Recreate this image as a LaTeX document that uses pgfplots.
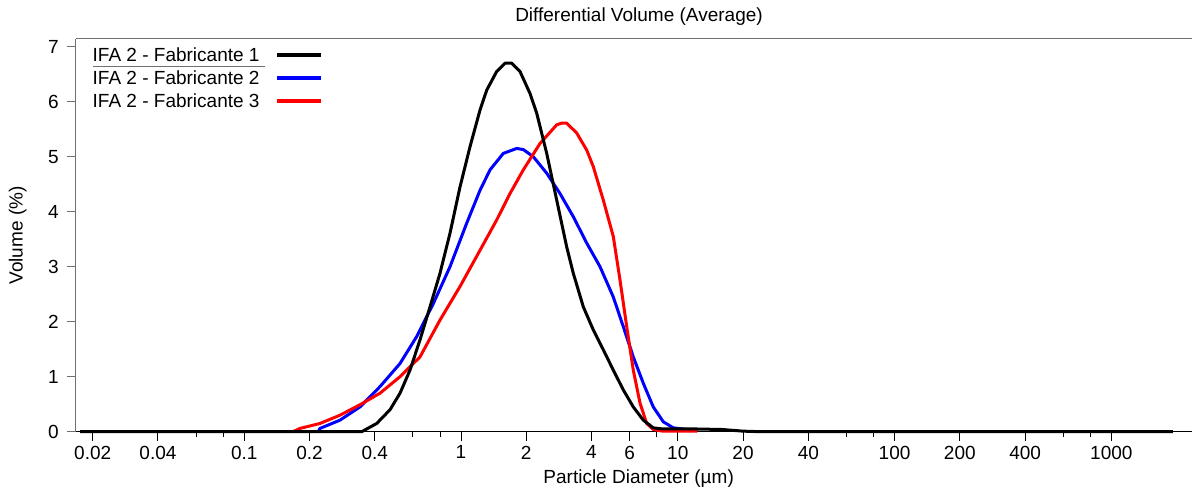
\documentclass[border=0pt]{standalone}
\usepackage{fontspec}
\setmainfont{Liberation Sans}
\usepackage{pgfplots}
\pgfplotsset{compat=1.18}
\newcommand\fs{\fontsize{19bp}{22bp}\selectfont}
\definecolor{axgray}{HTML}{707070}

% Differential volume
\pgfplotstableread{
d v
0.0175 0
0.3483 0
0.4086 0.15
0.4705 0.40
0.5232 0.70
0.5817 1.12
0.6470 1.67
0.7194 2.27
0.8000 2.88
0.8898 3.61
0.9894 4.45
1.100 5.18
1.224 5.85
1.314 6.21
1.461 6.55
1.596 6.70
1.714 6.70
1.871 6.55
2.081 6.15
2.235 5.79
2.485 5.06
2.764 4.21
3.073 3.36
3.296 2.88
3.666 2.27
4.076 1.85
4.533 1.49
5.040 1.12
5.606 0.76
6.233 0.45
6.934 0.21
7.709 0.07
8.5 0.05
12 0.05
16 0.04
20 0.01
24 0
1920 0
}\fabA
\pgfplotstableread{
d v
0.220 0.01
0.2237 0.06
0.2765 0.21
0.342 0.45
0.4230 0.82
0.5232 1.24
0.6246 1.73
0.7453 2.33
0.8898 3.00
1.062 3.79
1.224 4.39
1.361 4.76
1.567 5.06
1.807 5.15
1.938 5.13
2.155 5.00
2.485 4.70
2.862 4.33
3.296 3.91
3.801 3.43
4.377 3.00
5.040 2.45
5.606 1.91
6.233 1.36
6.934 0.88
7.709 0.45
8.575 0.18
9.533 0.07
10.5 0.05
12.3 0.02
}\fabB
\pgfplotstableread{
d v
0.168 0
0.1809 0.06
0.2237 0.15
0.2765 0.30
0.342 0.49
0.4230 0.70
0.5232 1.00
0.6470 1.36
0.8000 2.03
0.9894 2.64
1.224 3.30
1.461 3.85
1.683 4.33
1.938 4.76
2.314 5.24
2.764 5.58
2.914 5.61
3.073 5.61
3.418 5.43
3.801 5.12
4.076 4.82
4.533 4.21
5.040 3.55
5.412 2.76
5.813 1.91
6.233 1.12
6.695 0.52
7.186 0.15
7.709 0.04
8.5 0.01
12.3 0.01
}\fabC

\begin{document}
\begin{tikzpicture}
\begin{axis}[
  name=ax, at={(0,0)}, anchor=south west,
  scale only axis, width=1116bp, height=392.7bp,
  xmode=log, log basis x=10,
  xmin=0.01675, xmax=2354, ymin=0, ymax=7.14,
  clip=false,
  axis x line*=bottom, axis y line*=left,
  x axis line style={black, line width=1bp},
  y axis line style={axgray, line width=1bp},
  tick align=outside,
  xtick={0.02,0.04,0.1,0.2,0.4,1,2,4,6,10,20,40,100,200,400,1000},
  xticklabels={0.02,0.04,0.1,0.2,0.4,1,2,4,6,10,20,40,100,200,400,1000},
  minor xtick={0.06,0.08,0.6,0.8,8,60,80,600,800},
  major tick length=9bp, minor tick length=5.6bp,
  x tick style={black, line width=1bp},
  ytick={0,1,...,7},
  yticklabels={0,1,2,3,4,5,6,7},
  y tick style={axgray, line width=1bp},
  xticklabel style={font=\fs, inner sep=0pt, anchor=north, yshift=-5bp},
  yticklabel style={font=\fs, inner sep=0pt, anchor=east, xshift=-8bp},
  title={Differential Volume (Average)},
  title style={at={(axis description cs:0.5045,1.0293)}, anchor=base, inner sep=0pt, font=\fs},
  xlabel={Particle Diameter (µm)},
  xlabel style={at={(axis description cs:0.5042,-0.1314)}, anchor=base, inner sep=0pt, font=\fs},
  ylabel={Volume (\%)},
  ylabel style={at={(axis description cs:-0.04418,0.5)}, anchor=south, inner sep=0pt, font=\fs},
  legend image code/.code={\draw[#1,overlay] (184.3bp,0bp) -- (228.3bp,0bp);},
  legend cell align=left,
  legend style={at={(axis description cs:0,1)}, anchor=north west,
    xshift=16.7bp, yshift=-9.4bp, draw=none, fill=none,
    inner sep=0pt, outer sep=0pt, row sep=9.4bp, column sep=0pt, font=\fs,
    nodes={inner sep=0pt, text height=13.6bp, text depth=0pt}},
]
\addlegendimage{black, line width=3.5bp}
\addlegendentry{IFA 2 - Fabricante 1}
\addlegendimage{blue, line width=3.5bp}
\addlegendentry{IFA 2 - Fabricante 2}
\addlegendimage{red, line width=3.5bp}
\addlegendentry{IFA 2 - Fabricante 3}

\addplot[blue, line width=3bp, line join=round, forget plot] table[x=d, y=v] {\fabB};
\addplot[red, line width=3bp, line join=round, forget plot] table[x=d, y=v] {\fabC};
\addplot[black, line width=3bp, line join=round, forget plot] table[x=d, y=v] {\fabA};

\draw[axgray, line width=1bp] (rel axis cs:0,1) -- (rel axis cs:1,1);
\draw[axgray, line width=1bp] (axis description cs:0.01496,0.92946) -- (axis description cs:0.16935,0.92946);
\end{axis}
\pgfresetboundingbox
\useasboundingbox (-76bp,-56.3bp) rectangle (1116bp,431.7bp);
\end{tikzpicture}
\end{document}
